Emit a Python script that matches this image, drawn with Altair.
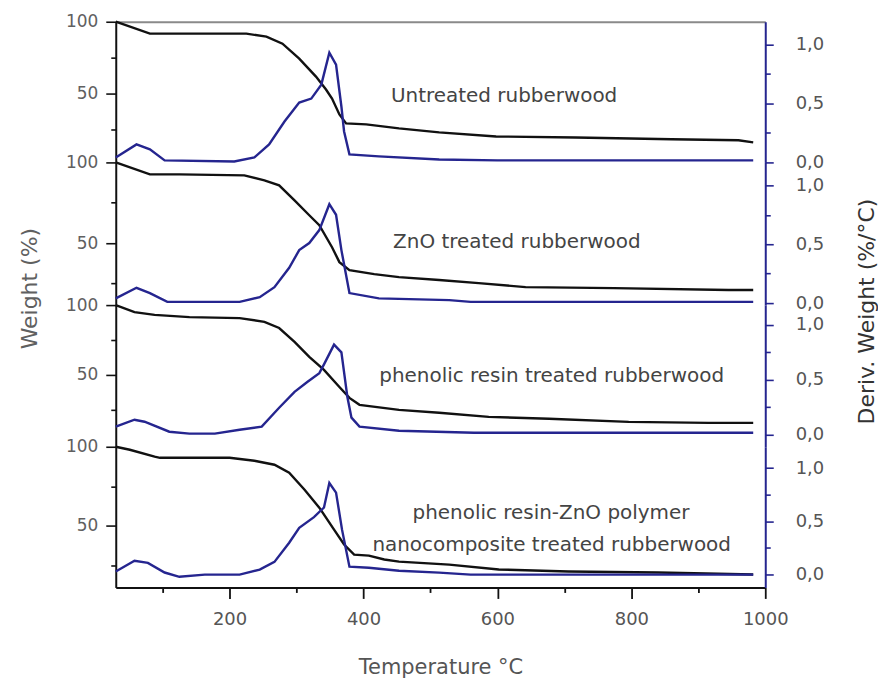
import altair as alt
import pandas as pd

# ---------------- data ----------------
# Panel 1: Untreated rubberwood
p1_tga_T = [30, 81, 106, 225, 255, 279, 304, 329, 344, 353, 364, 374, 404, 453, 513, 598, 717, 860, 960, 982]
p1_tga_W = [100, 91.7, 91.7, 91.7, 89.6, 84.7, 74.3, 61.8, 52.8, 46.5, 35.4, 29.2, 28.5, 25.7, 22.9, 20.1, 19.4, 18.1, 17.4, 16.0]
p1_dtg_T = [30, 61, 81, 103, 207, 237, 259, 282, 304, 322, 337, 349, 359, 367, 371, 379, 423, 513, 600, 982]
p1_dtg_D = [0.042, 0.152, 0.11, 0.017, 0.008, 0.042, 0.152, 0.346, 0.506, 0.54, 0.658, 0.928, 0.827, 0.473, 0.262, 0.068, 0.051, 0.025, 0.017, 0.017]

# Panel 2: ZnO treated rubberwood
p2_tga_T = [30, 81, 125, 222, 252, 274, 297, 319, 334, 353, 364, 379, 416, 453, 513, 572, 642, 774, 945, 982]
p2_tga_W = [100, 92.6, 92.6, 92.0, 88.9, 85.8, 76.5, 67.3, 61.1, 47.5, 38.3, 33.3, 30.9, 29.0, 27.2, 25.3, 22.8, 22.2, 21.0, 21.0]
p2_dtg_T = [30, 61, 81, 107, 215, 245, 267, 289, 304, 319, 334, 349, 359, 367, 379, 423, 528, 560, 982]
p2_dtg_D = [0.04, 0.13, 0.085, 0.01, 0.01, 0.05, 0.135, 0.30, 0.45, 0.51, 0.62, 0.84, 0.75, 0.45, 0.085, 0.04, 0.025, 0.01, 0.01]

# Panel 3: phenolic resin treated rubberwood
p3_tga_T = [30, 58, 88, 140, 215, 252, 274, 297, 319, 341, 364, 379, 394, 453, 513, 587, 677, 796, 915, 982]
p3_tga_W = [100, 95, 93, 91.4, 90.7, 88, 83.6, 73.6, 63, 53.6, 41.4, 33.6, 28.6, 25, 22.9, 20, 18.6, 16.4, 15.7, 15.7]
p3_dtg_T = [30, 58, 73, 110, 140, 178, 215, 248, 274, 297, 316, 334, 341, 356, 367, 376, 382, 394, 453, 565, 982]
p3_dtg_D = [0.073, 0.136, 0.118, 0.027, 0.01, 0.01, 0.045, 0.073, 0.245, 0.39, 0.48, 0.56, 0.64, 0.82, 0.75, 0.34, 0.155, 0.073, 0.036, 0.018, 0.018]

# Panel 4: phenolic resin-ZnO polymer nanocomposite treated rubberwood
p4_tga_T = [30, 51, 88, 96, 200, 237, 267, 289, 312, 334, 356, 371, 386, 408, 431, 453, 528, 602, 706, 840, 982]
p4_tga_W = [100, 98.1, 93.7, 93, 93, 91.1, 88.6, 83.5, 72.8, 61.4, 47.5, 38, 31.6, 31, 28.5, 27.2, 25.3, 22.2, 20.9, 20.3, 19]
p4_dtg_T = [30, 58, 78, 103, 125, 163, 215, 245, 267, 289, 304, 326, 341, 349, 359, 368, 379, 408, 453, 513, 560, 982]
p4_dtg_D = [0.03, 0.13, 0.11, 0.02, -0.02, 0, 0, 0.047, 0.12, 0.30, 0.44, 0.54, 0.63, 0.86, 0.77, 0.42, 0.075, 0.065, 0.037, 0.019, 0, 0]

# Annotations (temperature, weight %) per panel
p1_labels = ["Untreated rubberwood"]
p1_label_T = [610]
p1_label_W = [48]
p2_labels = ["ZnO treated rubberwood"]
p2_label_T = [629]
p2_label_W = [50.6]
p3_labels = ["phenolic resin treated rubberwood"]
p3_label_T = [681]
p3_label_W = [49.3]
p4_labels = ["phenolic resin-ZnO polymer", "nanocomposite treated rubberwood"]
p4_label_T = [680, 681]
p4_label_W = [58.2, 38]

x_ticks = [100, 200, 300, 400, 500, 600, 700, 800, 900, 1000]
w_ticks = [25, 50, 75, 100]
d_ticks = [0, 0.25, 0.5, 0.75, 1.0]

# ---------------- styling ----------------
BLACK = "#111111"
NAVY = "#25258f"
FONT = "DejaVu Sans"
W = 651

xscale = alt.Scale(domain=[30, 1000], nice=False, zero=False)


def left_axis(title=None, titleY=None):
    kw = dict(
        values=w_ticks,
        labelExpr="datum.value % 50 === 0 ? datum.label : ''",
        tickSize={"condition": {"test": "datum.value % 50 === 0", "value": 10}, "value": 5},
        tickColor=BLACK, tickWidth=1.6, domainColor=BLACK, domainWidth=2,
        labelColor="#606060", labelFontSize=17, labelFont=FONT, labelPadding=8,
        grid=False, title=title,
    )
    if title is not None:
        kw.update(titleY=titleY, titleFontSize=22, titleFont=FONT, titleColor="#606060",
                  titleFontWeight="normal", titlePadding=24)
    return alt.Axis(**kw)


def right_axis(title=None, titleY=None):
    kw = dict(
        orient="right",
        values=d_ticks,
        labelExpr="(datum.value === 0 || datum.value === 0.5 || datum.value === 1) ? replace(format(datum.value, '.1f'), '.', ',') : ''",
        tickSize={"condition": {"test": "datum.value === 0 || datum.value === 0.5 || datum.value === 1", "value": 8}, "value": 5},
        tickColor=NAVY, tickWidth=1.6, domainColor=NAVY, domainWidth=2,
        labelColor="#555555", labelFontSize=18, labelFont=FONT, labelPadding=22,
        grid=False, title=title,
    )
    if title is not None:
        kw.update(titleY=titleY, titleFontSize=22, titleFont=FONT, titleColor="#333333",
                  titleFontWeight="normal", titlePadding=55, titleAngle=270)
    return alt.Axis(**kw)


def bottom_axis():
    return alt.Axis(
        orient="bottom", values=x_ticks,
        labelExpr="datum.value % 200 === 0 ? format(datum.value, 'd') : ''",
        tickSize={"condition": {"test": "datum.value % 200 === 0", "value": 11}, "value": 5},
        tickColor=BLACK, tickWidth=1.8, domainColor=BLACK, domainWidth=2,
        labelColor="#555555", labelFontSize=18, labelFont=FONT, labelPadding=12,
        labelFlush=False, labelOverlap=False, grid=False,
        title="Temperature °C", titleFontSize=21, titleFont=FONT, titleColor="#555555",
        titleFontWeight="normal", titlePadding=28,
    )


def top_axis():
    return alt.Axis(orient="top", labels=False, ticks=False, domainColor="#8a8a8a",
                    domainWidth=2, grid=False, title=None)


def panel(tT, tW, dT, dD, labs, labT, labW, wdom, ddom, h, xaxis, ltitle=None, rtitle=None, lY=None, rY=None):
    tga = pd.DataFrame({"T": tT, "W": tW})
    dtg = pd.DataFrame({"T": dT, "D": dD})
    lab = pd.DataFrame({"T": labT, "W": labW, "label": labs})
    wscale = alt.Scale(domain=wdom, nice=False, zero=False)
    dscale = alt.Scale(domain=ddom, nice=False, zero=False)
    lax = left_axis(ltitle, lY)
    black = alt.Chart(tga).mark_line(color=BLACK, strokeWidth=2.4).encode(
        x=alt.X("T:Q", scale=xscale, axis=xaxis),
        y=alt.Y("W:Q", scale=wscale, axis=lax),
    )
    text = alt.Chart(lab).mark_text(font=FONT, fontSize=20, color="#444444", align="center",
                                    baseline="middle").encode(
        x=alt.X("T:Q", scale=xscale, axis=xaxis),
        y=alt.Y("W:Q", scale=wscale, axis=lax),
        text="label:N",
    )
    blue = alt.Chart(dtg).mark_line(color=NAVY, strokeWidth=2.4).encode(
        x=alt.X("T:Q", scale=xscale, axis=xaxis),
        y=alt.Y("D:Q", scale=dscale, axis=right_axis(rtitle, rY)),
    )
    return alt.layer(alt.layer(black, text), blue).resolve_scale(y="independent").properties(
        width=W, height=h)


c1 = panel(p1_tga_T, p1_tga_W, p1_dtg_T, p1_dtg_D, p1_labels, p1_label_T, p1_label_W,
           [2, 100], [0.0, 1.19], 141, top_axis())
c2 = panel(p2_tga_T, p2_tga_W, p2_dtg_T, p2_dtg_D, p2_labels, p2_label_T, p2_label_W,
           [11.7, 100], [-0.017, 1.195], 143, None,
           ltitle="Weight (%)", rtitle="Deriv. Weight (%/°C)", lY=126, rY=149)
c3 = panel(p3_tga_T, p3_tga_W, p3_dtg_T, p3_dtg_D, p3_labels, p3_label_T, p3_label_W,
           [-1.4, 100], [-0.11, 1.18], 142, None)
c4 = panel(p4_tga_T, p4_tga_W, p4_dtg_T, p4_dtg_D, p4_labels, p4_label_T, p4_label_W,
           [10.8, 100], [-0.12, 1.2], 141, bottom_axis())

chart = alt.vconcat(c1, c2, c3, c4, spacing=0, bounds="flush").properties(
    padding={"left": 10, "top": 4, "right": 0, "bottom": 0},
    background="white",
).configure_view(stroke=None)

chart.save("out.html", embed_options={"renderer": "svg", "actions": False})
